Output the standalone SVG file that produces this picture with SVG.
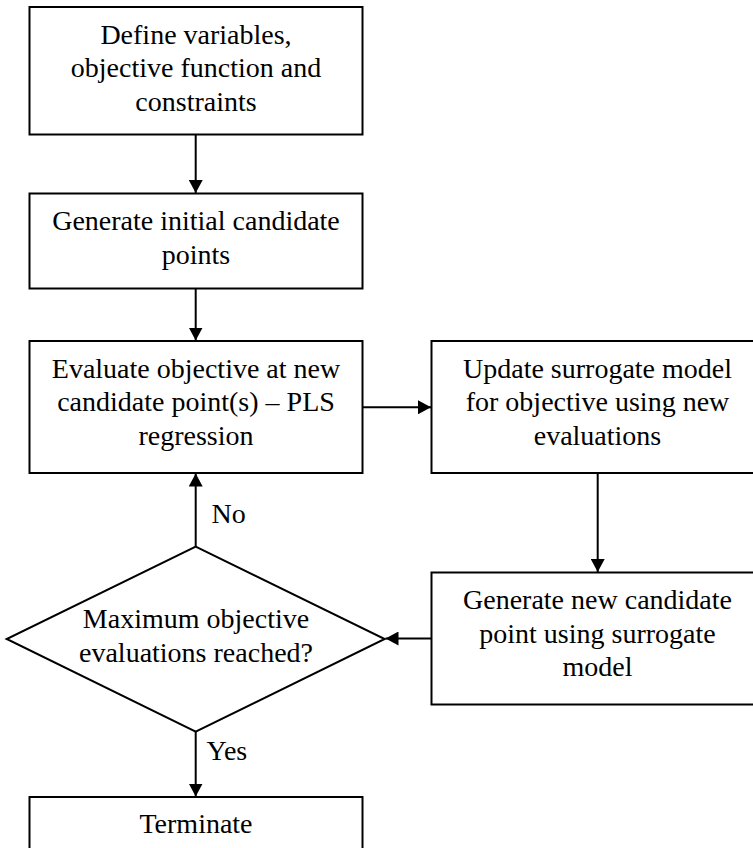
<svg xmlns="http://www.w3.org/2000/svg" width="753" height="848" viewBox="0 0 753 848">
<style>
.box{fill:#fff;stroke:#000;stroke-width:2}
.t{font-family:"Liberation Serif","Times New Roman",serif;font-size:28px;fill:#000;text-anchor:middle}
.lbl{font-family:"Liberation Serif","Times New Roman",serif;font-size:28px;fill:#000}
.c{fill:none;stroke:#000;stroke-width:2}
</style>
<defs>
<marker id="ah" viewBox="0 0 13 14" refX="13" refY="7" markerWidth="13" markerHeight="14" markerUnits="userSpaceOnUse" orient="auto">
<path d="M0,0 L13,7 L0,14 z" fill="#000"/>
</marker>
</defs>
<rect width="753" height="848" fill="#fff"/>
<g id="n1">
<rect class="box" x="29.5" y="7" width="333" height="127.5"/>
<text class="t" x="196" y="43.5">Define variables,</text>
<text class="t" x="196" y="77">objective function and</text>
<text class="t" x="196" y="110.5">constraints</text>
</g>
<g id="n2">
<rect class="box" x="29.5" y="193.5" width="333" height="95"/>
<text class="t" x="196" y="230">Generate initial candidate</text>
<text class="t" x="196" y="263.5">points</text>
</g>
<g id="n3">
<rect class="box" x="29.5" y="341" width="333" height="132"/>
<text class="t" x="196" y="377.5">Evaluate objective at new</text>
<text class="t" x="196" y="411">candidate point(s) – PLS</text>
<text class="t" x="196" y="444.5">regression</text>
</g>
<g id="n4">
<rect class="box" x="431.5" y="341" width="332" height="132"/>
<text class="t" x="597.5" y="377.5">Update surrogate model</text>
<text class="t" x="597.5" y="411">for objective using new</text>
<text class="t" x="597.5" y="444.5">evaluations</text>
</g>
<g id="n5">
<rect class="box" x="431.5" y="572.5" width="332" height="132"/>
<text class="t" x="597.5" y="609">Generate new candidate</text>
<text class="t" x="597.5" y="642.5">point using surrogate</text>
<text class="t" x="597.5" y="676">model</text>
</g>
<g id="d1">
<polygon class="box" points="195.7,546.7 384.7,639 195.7,731.7 6.7,639"/>
<text class="t" x="196" y="628">Maximum objective</text>
<text class="t" x="196" y="661.5">evaluations reached?</text>
</g>
<g id="n6">
<rect class="box" x="29.5" y="797" width="333" height="80"/>
<text class="t" x="196" y="833">Terminate</text>
</g>
<g id="connectors">
<line class="c" x1="195.7" y1="134.5" x2="195.7" y2="193" marker-end="url(#ah)"/>
<line class="c" x1="195.7" y1="288.5" x2="195.7" y2="340.5" marker-end="url(#ah)"/>
<line class="c" x1="362.5" y1="407.3" x2="431" y2="407.3" marker-end="url(#ah)"/>
<line class="c" x1="597.7" y1="473" x2="597.7" y2="572" marker-end="url(#ah)"/>
<line class="c" x1="431.5" y1="638.5" x2="385.5" y2="638.5" marker-end="url(#ah)"/>
<line class="c" x1="195.7" y1="546.7" x2="195.7" y2="473.5" marker-end="url(#ah)"/>
<line class="c" x1="195.7" y1="731.7" x2="195.7" y2="796.5" marker-end="url(#ah)"/>
<text class="lbl" x="211.5" y="522.5">No</text>
<text class="lbl" x="206.5" y="760">Yes</text>
</g>
</svg>
